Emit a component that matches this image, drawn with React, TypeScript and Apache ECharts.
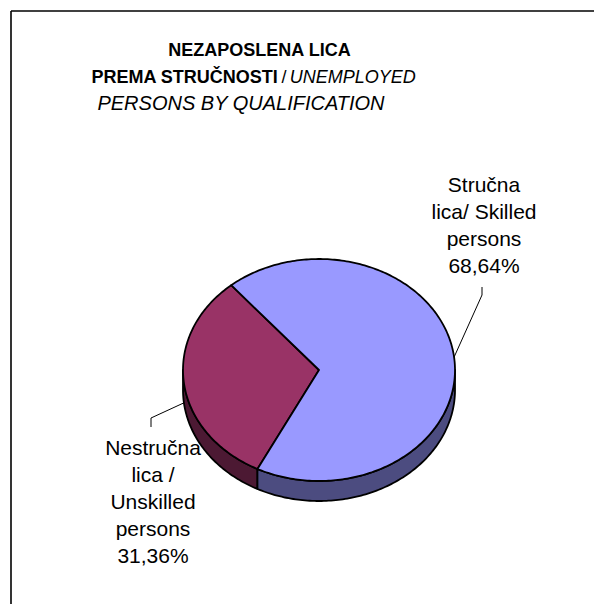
import React, { useEffect, useRef } from "react";
import * as echarts from "echarts";

// ---- data ----
const categories = ["Nestručna lica / Unskilled persons", "Stručna lica/ Skilled persons"];
const labelNames = [
  ["Nestručna", "lica /", "Unskilled", "persons"],
  ["Stručna", "lica/ Skilled", "persons"],
];
const values = [31.36, 68.64];
const titleLine1 = "NEZAPOSLENA LICA";
const titleLine2Bold = "PREMA STRUČNOSTI";
const titleLine2Italic = "UNEMPLOYED";
const titleLine3 = "PERSONS BY QUALIFICATION";

// ---- styles / layout ----
const FONT = "'Liberation Sans', Arial, Helvetica, sans-serif";
const topColors = ["#993366", "#9999FF"];
const sideColors = ["#4C1933", "#4C4C80"];
const PIE = { cx: 319, cy: 370, rx: 136, ry: 111, depth: 20, startAngle: 130.2 };
const LABEL_LAYOUT = [
  { elbow: [151, 418], end: [151, 427], text: [153, 501] },
  { elbow: [482, 295], end: [482, 287], text: [484, 224.5] },
];

function arcPoints(a0: number, a1: number, dy: number) {
  const pts: number[][] = [];
  const n = Math.max(2, Math.ceil(Math.abs(a1 - a0)));
  for (let i = 0; i <= n; i++) {
    const t = ((a0 + ((a1 - a0) * i) / n) * Math.PI) / 180;
    pts.push([PIE.cx + PIE.rx * Math.cos(t), PIE.cy - PIE.ry * Math.sin(t) + dy]);
  }
  return pts;
}

function formatPct(v: number) {
  return v.toFixed(2).replace(".", ",") + "%";
}

export default function App() {
  const ref = useRef<HTMLDivElement>(null);
  useEffect(() => {
    if (!ref.current) return;
    const chart = echarts.init(ref.current, undefined, { renderer: "svg" });
    const total = values.reduce((s, v) => s + v, 0);

    const renderItem = (params: any, api: any) => {
      const i = params.dataIndex;
      let before = 0;
      for (let k = 0; k < i; k++) before += values[k];
      const a0 = PIE.startAngle + (before / total) * 360;
      const a1 = a0 + (api.value(0) / total) * 360;
      const children: any[] = [];

      // side walls (front-facing half)
      for (let k = -1; k <= 2; k++) {
        const s = Math.max(a0, 180 + 360 * k);
        const e = Math.min(a1, 360 + 360 * k);
        if (e > s) {
          const topArc = arcPoints(s, e, 0);
          const botArc = arcPoints(e, s, PIE.depth);
          children.push({
            type: "polygon",
            z2: 1,
            shape: { points: topArc.concat(botArc) },
            style: { fill: sideColors[i], stroke: "#000", lineWidth: 1.8, lineJoin: "round" },
          });
        }
      }
      // top face
      children.push({
        type: "polygon",
        z2: 2,
        shape: { points: [[PIE.cx, PIE.cy]].concat(arcPoints(a0, a1, 0)) },
        style: { fill: topColors[i], stroke: "#000", lineWidth: 1.8, lineJoin: "round" },
      });

      // leader line from mid-angle edge
      const mid = (((a0 + a1) / 2) * Math.PI) / 180;
      const ex = PIE.cx + PIE.rx * Math.cos(mid);
      let ey = PIE.cy - PIE.ry * Math.sin(mid);
      if (Math.sin(mid) < 0) ey += PIE.depth;
      const lay = LABEL_LAYOUT[i];
      children.push({
        type: "polyline",
        z2: 5,
        shape: { points: [[ex, ey], lay.elbow, lay.end] },
        style: { fill: null, stroke: "#000", lineWidth: 1 },
      });
      // label text
      const txt = labelNames[i].concat([formatPct(api.value(0))]).join("\n");
      children.push({
        type: "text",
        z2: 10,
        style: {
          text: txt,
          x: lay.text[0],
          y: lay.text[1],
          align: "center",
          verticalAlign: "middle",
          textAlign: "center",
          textVerticalAlign: "middle",
          fontSize: 21,
          fontFamily: FONT,
          lineHeight: 27,
          fill: "#000",
        },
      });
      return { type: "group", children };
    };

    const titleStyle = { fontSize: 18, fontFamily: FONT, fill: "#000" };

    chart.setOption({
      animation: false,
      backgroundColor: "#fff",
      graphic: [
        { type: "line", shape: { x1: 11, y1: 11, x2: 594, y2: 11 }, style: { stroke: "#000", lineWidth: 1.6 } },
        { type: "line", shape: { x1: 11, y1: 11, x2: 11, y2: 604 }, style: { stroke: "#000", lineWidth: 1.6 } },
        {
          type: "text",
          style: {
            ...titleStyle,
            text: titleLine1,
            fontWeight: "bold",
            x: 259.5,
            y: 50,
            align: "center",
            verticalAlign: "middle",
            textAlign: "center",
            textVerticalAlign: "middle",
          },
        },
        {
          type: "text",
          style: {
            text: `{b|${titleLine2Bold}} {n|/} {i|${titleLine2Italic}}`,
            rich: {
              b: { fontSize: 18, fontFamily: FONT, fontWeight: "bold", color: "#000" },
              n: { fontSize: 18, fontFamily: FONT, color: "#000" },
              i: { fontSize: 18, fontFamily: FONT, fontStyle: "italic", color: "#000" },
            },
            x: 253.5,
            y: 77,
            align: "center",
            verticalAlign: "middle",
            textAlign: "center",
            textVerticalAlign: "middle",
          },
        },
        {
          type: "text",
          style: {
            ...titleStyle,
            fontSize: 20,
            text: titleLine3,
            fontStyle: "italic",
            x: 241,
            y: 103,
            align: "center",
            verticalAlign: "middle",
            textAlign: "center",
            textVerticalAlign: "middle",
          },
        },
      ],
      series: [
        {
          type: "custom",
          coordinateSystem: "none",
          silent: true,
          renderItem,
          data: values.map((v, i) => ({ value: v, name: categories[i] })),
        },
      ],
    });
    return () => chart.dispose();
  }, []);
  return (
    <div
      ref={ref}
      style={{ position: "fixed", left: 0, top: 0, width: 594, height: 604 }}
    />
  );
}
